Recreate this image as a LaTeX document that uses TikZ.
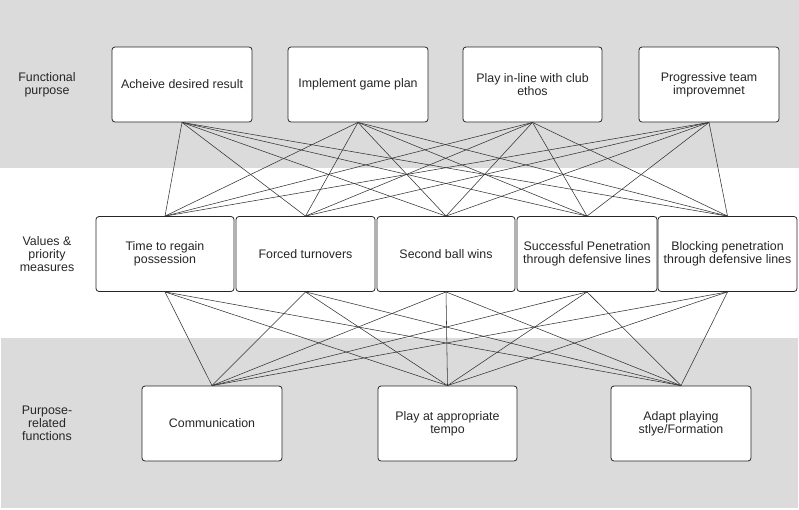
\documentclass[tikz,border=0pt]{standalone}
\usepackage{fontspec}
\setmainfont{Liberation Sans}
\begin{document}
\begin{tikzpicture}[x=1pt,y=-1pt,
  band/.style={fill=black!14,draw=none},
  box/.style={draw=black!85,line width=0.8pt,fill=white,rounded corners=3pt,
    minimum height=75pt,align=center,inner sep=1pt,text=black!85,
    font=\fontsize{12.4}{13}\selectfont},
  lbl/.style={align=center,text=black!85,font=\fontsize{12.4}{13}\selectfont},
  link/.style={draw=black!80,line width=0.55pt}]
\useasboundingbox (0,0) rectangle (799,509);
\fill[band] (0,0) rectangle (799,168);
\fill[band] (1,338) rectangle (798,508);
% labels
\node[lbl] (l1) at (47,85) {Functional\\purpose};
\node[lbl] (l2) at (47,254) {Values \&\\priority\\measures};
\node[lbl] (l3) at (47,423) {Purpose-\\related\\functions};
% top boxes
\node[box,minimum width=140pt] (t1) at (182,84.5) {Acheive desired result};
\node[box,minimum width=140pt] (t2) at (358,84.5) {Implement game plan};
\node[box,minimum width=139pt] (t3) at (532.5,84.5) {Play in-line with club\\ethos};
\node[box,minimum width=140pt] (t4) at (709,84.5) {Progressive team\\improvemnet};
% middle boxes
\node[box,minimum width=138pt] (m1) at (165,254) {Time to regain\\possession};
\node[box,minimum width=139pt] (m2) at (305.5,254) {Forced turnovers};
\node[box,minimum width=138pt] (m3) at (446,254) {Second ball wins};
\node[box,minimum width=140pt] (m4) at (587,254) {Successful Penetration\\through defensive lines};
\node[box,minimum width=139pt] (m5) at (727.5,254) {Blocking penetration\\through defensive lines};
% bottom boxes
\node[box,minimum width=140pt] (b1) at (212,423.5) {Communication};
\node[box,minimum width=139pt] (b2) at (447.5,423.5) {Play at appropriate\\tempo};
\node[box,minimum width=140pt] (b3) at (681,423.5) {Adapt playing\\stlye/Formation};
% links
\foreach \t in {t1,t2,t3,t4}{
  \foreach \m in {m1,m2,m3,m4,m5}{
    \draw[link] (\t.south) -- (\m.north);
  }
}
\foreach \m in {m1,m2,m3,m4,m5}{
  \foreach \b in {b1,b2,b3}{
    \draw[link] (\m.south) -- (\b.north);
  }
}
\end{tikzpicture}
\end{document}
